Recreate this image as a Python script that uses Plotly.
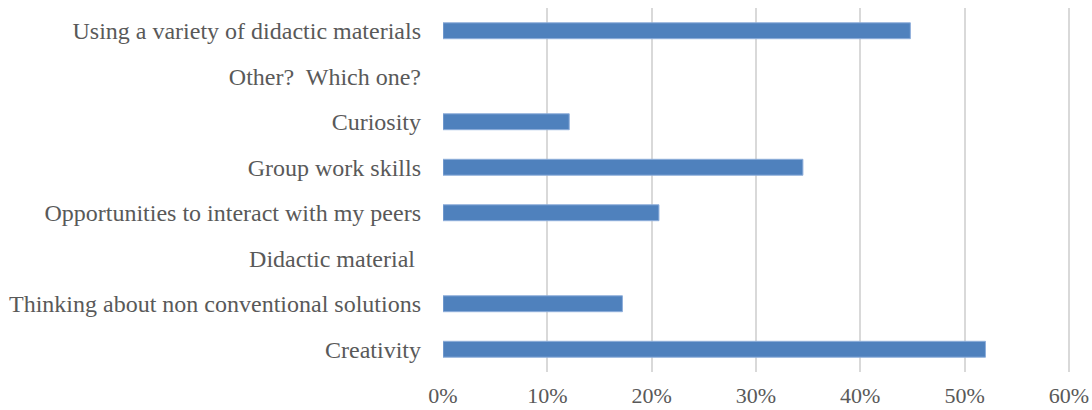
import plotly.graph_objects as go

categories = [
    "Creativity",
    "Thinking about non conventional solutions",
    "Didactic material\u00a0",
    "Opportunities to interact with my peers",
    "Group work skills",
    "Curiosity",
    "Other?\u00a0 Which one?",
    "Using a variety of didactic materials",
]
values = [0.52, 0.172, 0.0, 0.207, 0.345, 0.121, 0.0, 0.448]
tick_vals = [0, 0.1, 0.2, 0.3, 0.4, 0.5, 0.6]
tick_text = ["0%", "10%", "20%", "30%", "40%", "50%", "60%"]

fig = go.Figure(go.Bar(
    x=values, y=categories, orientation="h",
    marker=dict(color="#4f81bd", line=dict(color="#8eaedb", width=[1 if v > 0 else 0 for v in values])),
    width=0.35,
))

font_family = "Liberation Serif, Times New Roman, serif"
fig.update_layout(
    width=1092, height=410,
    margin=dict(l=443, r=21, t=8, b=38, autoexpand=False),
    plot_bgcolor="white", paper_bgcolor="white",
    showlegend=False,
    font=dict(family=font_family, size=24, color="#595959"),
    xaxis=dict(range=[0, 0.602], tickvals=tick_vals, ticktext=tick_text,
               showgrid=True, gridcolor="#d9d9d9", gridwidth=1.5,
               zeroline=False, showline=False, ticks="", ticklabelstandoff=8,
               automargin=False,
               tickfont=dict(family=font_family, size=22, color="#595959")),
    yaxis=dict(categoryorder="array", categoryarray=categories,
               range=[-0.5, 7.5], showgrid=False, zeroline=False,
               showline=False, ticks="", ticklabelstandoff=21,
               automargin=False,
               tickfont=dict(family=font_family, size=24, color="#595959")),
)
fig.write_html(
    "out.html",
    config={"displayModeBar": False},
    post_script="document.body.style.margin='0';document.body.style.overflow='hidden';",
)
